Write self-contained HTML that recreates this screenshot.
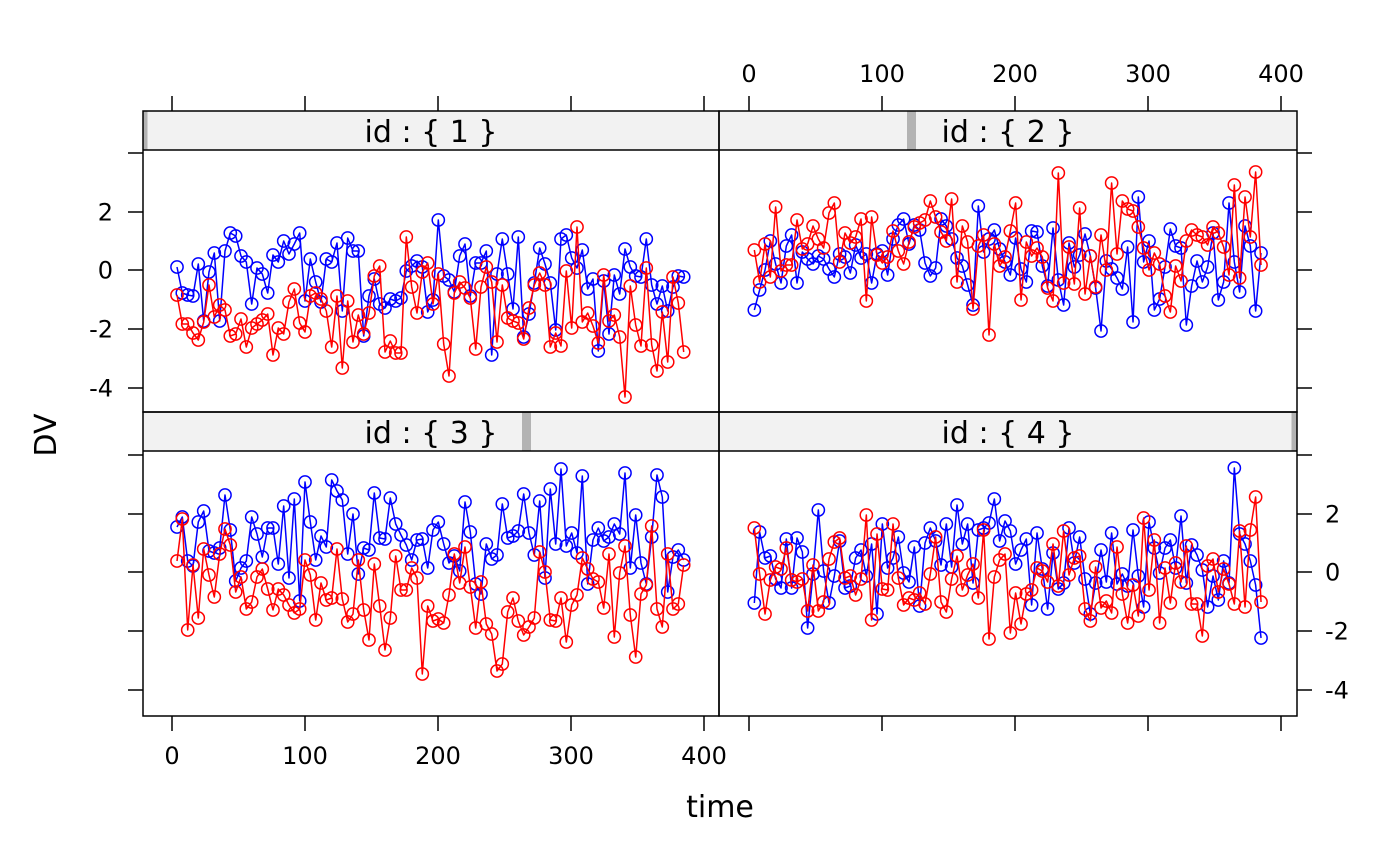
<!DOCTYPE html>
<html>
<head>
<meta charset="utf-8">
<style>
html,body{margin:0;padding:0;background:#fff;}
svg{display:block;}
text{font-family:"DejaVu Sans","Liberation Sans",sans-serif;fill:#000;}
.tk{font-size:24px;}
.st{font-size:30px;}
.lb{font-size:30px;}
</style>
</head>
<body>
<svg width="1400" height="866" viewBox="0 0 1400 866" xmlns="http://www.w3.org/2000/svg">
<defs>
<marker id="mb" markerWidth="16" markerHeight="16" refX="8" refY="8" markerUnits="userSpaceOnUse" overflow="visible"><circle cx="8" cy="8" r="6.1" fill="none" stroke="#0000ff" stroke-width="1.5"/></marker>
<marker id="mr" markerWidth="16" markerHeight="16" refX="8" refY="8" markerUnits="userSpaceOnUse" overflow="visible"><circle cx="8" cy="8" r="6.1" fill="none" stroke="#ff0000" stroke-width="1.5"/></marker>
</defs>
<rect x="0" y="0" width="1400" height="866" fill="#fff"/>

<!-- strips -->
<rect x="143" y="111" width="576" height="39" fill="#f2f2f2"/>
<rect x="719" y="111" width="578" height="39" fill="#f2f2f2"/>
<rect x="143" y="412" width="576" height="39" fill="#f2f2f2"/>
<rect x="719" y="412" width="578" height="39" fill="#f2f2f2"/>
<rect x="143" y="111" width="4.5" height="39" fill="#b3b3b3"/>
<rect x="907" y="111" width="9" height="39" fill="#b3b3b3"/>
<rect x="522" y="412" width="9" height="39" fill="#b3b3b3"/>
<rect x="1291.5" y="412" width="5.5" height="39" fill="#b3b3b3"/>
<text class="st" x="431" y="142" text-anchor="middle">id : { 1 }</text>
<text class="st" x="1008" y="142" text-anchor="middle">id : { 2 }</text>
<text class="st" x="431" y="443" text-anchor="middle">id : { 3 }</text>
<text class="st" x="1008" y="443" text-anchor="middle">id : { 4 }</text>

<!-- data -->
<g fill="none" stroke-width="1.5" stroke-linejoin="round">
<!-- panel 1 -->
<polyline stroke="#0000ff" marker-start="url(#mb)" marker-mid="url(#mb)" marker-end="url(#mb)" points="177,267 182.3,293 187.7,295 193,296 198.3,264 203.7,321 209,272 214.3,253 219.7,321 225,251 230.3,233 235.7,236 241,256 246.3,262 251.7,304 257,268 262.3,274 267.7,293 273,255 278.3,262 283.7,241 289,254 294.3,244 299.7,233 305,301 310.3,259 315.7,282 321,302 326.3,259 331.7,262 337,243 342.3,311 347.7,238 353,251 358.3,251 363.7,336 369,296 374.3,279 379.7,304 385,308 390.3,299 395.7,301 401,298 406.3,271 411.7,266 417,261 422.3,267 427.7,312 433,300 438.3,220 443.7,276 449,280 454.3,292 459.7,256 465,244 470.3,296 475.7,263 481,263 486.3,251 491.7,355 497,274 502.3,239 507.7,274 513,309 518.3,237 523.7,337 529,314 534.3,283 539.7,248 545,264 550.3,283 555.7,330 561,239 566.3,235 571.7,258 577,268 582.3,250 587.7,289 593,279 598.3,351 603.7,281 609,334 614.3,275 619.7,294 625,249 630.3,267 635.7,276 641,277 646.3,239 651.7,285 657,304 662.3,286 667.7,311 673,287 678.3,276 683.7,277"/>
<polyline stroke="#ff0000" marker-start="url(#mr)" marker-mid="url(#mr)" marker-end="url(#mr)" points="177,295 182.3,324 187.7,324 193,333 198.3,340 203.7,322 209,285 214.3,317 219.7,305 225,310 230.3,336 235.7,334 241,319 246.3,347 251.7,328 257,324 262.3,320 267.7,314 273,355 278.3,328 283.7,334 289,302 294.3,289 299.7,323 305,332 310.3,296 315.7,293 321,299 326.3,311 331.7,347 337,296 342.3,368 347.7,301 353,342 358.3,315 363.7,334 369,313 374.3,276 379.7,266 385,352 390.3,341 395.7,353 401,353 406.3,237 411.7,287 417,313 422.3,272 427.7,263 433,304 438.3,274 443.7,344 449,376 454.3,293 459.7,282 465,288 470.3,298 475.7,349 481,287 486.3,267 491.7,282 497,342 502.3,285 507.7,318 513,321 518.3,323 523.7,339 529,308 534.3,285 539.7,273 545,285 550.3,347 555.7,333 561,346 566.3,271 571.7,328 577,227 582.3,322 587.7,313 593,326 598.3,343 603.7,275 609,321 614.3,315 619.7,337 625,397 630.3,286 635.7,325 641,346 646.3,268 651.7,345 657,371 662.3,312 667.7,362 673,277 678.3,303 683.7,352"/>
<!-- panel 3 -->
<polyline stroke="#0000ff" marker-start="url(#mb)" marker-mid="url(#mb)" marker-end="url(#mb)" points="177,527 182.3,517 187.7,561 193,566 198.3,522 203.7,511 209,551 214.3,553 219.7,548 225,495 230.3,530 235.7,581 241,568 246.3,561 251.7,517 257,534 262.3,557 267.7,528 273,528 278.3,564 283.7,506 289,578 294.3,499 299.7,601 305,482 310.3,522 315.7,560 321,536 326.3,547 331.7,480 337,491 342.3,500 347.7,554 353,514 358.3,574 363.7,548 369,550 374.3,493 379.7,538 385,539 390.3,498 395.7,524 401,535 406.3,545 411.7,560 417,540 422.3,539 427.7,568 433,530 438.3,522 443.7,544 449,563 454.3,556 459.7,571 465,502 470.3,532 475.7,584 481,594 486.3,544 491.7,559 497,555 502.3,504 507.7,538 513,536 518.3,531 523.7,494 529,533 534.3,555 539.7,501 545,578 550.3,489 555.7,544 561,469 566.3,546 571.7,533 577,553 582.3,476 587.7,584 593,540 598.3,528 603.7,541 609,537 614.3,524 619.7,534 625,473 630.3,568 635.7,515 641,563 646.3,584 651.7,537 657,475 662.3,497 667.7,592 673,557 678.3,550 683.7,560"/>
<polyline stroke="#ff0000" marker-start="url(#mr)" marker-mid="url(#mr)" marker-end="url(#mr)" points="177,561 182.3,519 187.7,630 193,565 198.3,618 203.7,549 209,575 214.3,597 219.7,554 225,529 230.3,545 235.7,592 241,577 246.3,609 251.7,602 257,577 262.3,569 267.7,589 273,610 278.3,589 283.7,595 289,605 294.3,613 299.7,609 305,560 310.3,575 315.7,620 321,583 326.3,600 331.7,598 337,549 342.3,599 347.7,622 353,614 358.3,560 363.7,610 369,640 374.3,564 379.7,606 385,650 390.3,618 395.7,556 401,590 406.3,590 411.7,568 417,578 422.3,674 427.7,606 433,621 438.3,619 443.7,623 449,595 454.3,554 459.7,583 465,547 470.3,587 475.7,628 481,582 486.3,624 491.7,634 497,671 502.3,664 507.7,612 513,598 518.3,621 523.7,635 529,627 534.3,618 539.7,552 545,572 550.3,620 555.7,621 561,598 566.3,642 571.7,605 577,595 582.3,558 587.7,569 593,579 598.3,582 603.7,608 609,554 614.3,637 619.7,573 625,546 630.3,615 635.7,657 641,594 646.3,585 651.7,526 657,609 662.3,627 667.7,554 673,609 678.3,604 683.7,565"/>
<g transform="translate(577.33,0)">
<!-- panel 2 -->
<polyline stroke="#0000ff" marker-start="url(#mb)" marker-mid="url(#mb)" marker-end="url(#mb)" points="177,310 182.3,290 187.7,270 193,241 198.3,264 203.7,283 209,246 214.3,235 219.7,283 225,252 230.3,259 235.7,264 241,256 246.3,259 251.7,269 257,277 262.3,254 267.7,257 273,273 278.3,245 283.7,258 289,254 294.3,283 299.7,254 305,251 310.3,275 315.7,239 321,225 326.3,219 331.7,244 337,225 342.3,230 347.7,263 353,276 358.3,268 363.7,219 369,226 374.3,239 379.7,258 385,266 390.3,285 395.7,305 401,206 406.3,252 411.7,239 417,230 422.3,249 427.7,262 433,275 438.3,238 443.7,269 449,282 454.3,231 459.7,232 465,266 470.3,286 475.7,228 481,280 486.3,305 491.7,243 497,267 502.3,255 507.7,234 513,256 518.3,288 523.7,331 529,261 534.3,269 539.7,278 545,289 550.3,247 555.7,322 561,197 566.3,262 571.7,241 577,310 582.3,299 587.7,267 593,229 598.3,246 603.7,248 609,325 614.3,286 619.7,261 625,282 630.3,267 635.7,233 641,300 646.3,282 651.7,203 657,262 662.3,292 667.7,226 673,246 678.3,311 683.7,253"/>
<polyline stroke="#ff0000" marker-start="url(#mr)" marker-mid="url(#mr)" marker-end="url(#mr)" points="177,250 182.3,282 187.7,244 193,277 198.3,207 203.7,271 209,265 214.3,265 219.7,220 225,249 230.3,244 235.7,226 241,239 246.3,248 251.7,213 257,203 262.3,262 267.7,233 273,243 278.3,237 283.7,219 289,301 294.3,217 299.7,255 305,263 310.3,257 315.7,231 321,251 326.3,264 331.7,242 337,227 342.3,223 347.7,220 353,201 358.3,217 363.7,232 369,241 374.3,199 379.7,282 385,226 390.3,242 395.7,309 401,246 406.3,235 411.7,335 417,244 422.3,266 427.7,257 433,231 438.3,203 443.7,300 449,242 454.3,256 459.7,248 465,257 470.3,288 475.7,301 481,173 486.3,283 491.7,247 497,284 502.3,208 507.7,294 513,256 518.3,287 523.7,235 529,270 534.3,183 539.7,254 545,201 550.3,209 555.7,211 561,227 566.3,248 571.7,270 577,253 582.3,264 587.7,296 593,312 598.3,266 603.7,281 609,241 614.3,230 619.7,235 625,237 630.3,245 635.7,227 641,233 646.3,247 651.7,275 657,185 662.3,278 667.7,197 673,237 678.3,172 683.7,265"/>
<!-- panel 4 -->
<polyline stroke="#0000ff" marker-start="url(#mb)" marker-mid="url(#mb)" marker-end="url(#mb)" points="177,603 182.3,532 187.7,558 193,556 198.3,579 203.7,588 209,539 214.3,588 219.7,538 225,552 230.3,628 235.7,574 241,510 246.3,571 251.7,603 257,576 262.3,541 267.7,588 273,586 278.3,558 283.7,550 289,576 294.3,544 299.7,614 305,524 310.3,568 315.7,558 321,537 326.3,573 331.7,582 337,547 342.3,606 347.7,543 353,528 358.3,541 363.7,565 369,524 374.3,567 379.7,505 385,544 390.3,524 395.7,583 401,530 406.3,528 411.7,523 417,499 422.3,541 427.7,521 433,531 438.3,564 443.7,550 449,539 454.3,605 459.7,533 465,569 470.3,609 475.7,553 481,589 486.3,583 491.7,528 497,563 502.3,537 507.7,579 513,614 518.3,583 523.7,550 529,582 534.3,533 539.7,584 545,574 550.3,586 555.7,530 561,576 566.3,607 571.7,522 577,548 582.3,573 587.7,548 593,540 598.3,568 603.7,516 609,583 614.3,545 619.7,555 625,570 630.3,607 635.7,576 641,600 646.3,561 651.7,583 657,468 662.3,534 667.7,544 673,561 678.3,585 683.7,638"/>
<polyline stroke="#ff0000" marker-start="url(#mr)" marker-mid="url(#mr)" marker-end="url(#mr)" points="177,528 182.3,574 187.7,614 193,580 198.3,567 203.7,569 209,548 214.3,580 219.7,582 225,579 230.3,611 235.7,565 241,611 246.3,602 251.7,559 257,542 262.3,538 267.7,578 273,576 278.3,595 283.7,579 289,515 294.3,620 299.7,534 305,589 310.3,590 315.7,524 321,578 326.3,605 331.7,598 337,600 342.3,593 347.7,604 353,574 358.3,537 363.7,602 369,612 374.3,579 379.7,556 385,590 390.3,575 395.7,564 401,598 406.3,530 411.7,639 417,577 422.3,560 427.7,554 433,633 438.3,593 443.7,624 449,594 454.3,590 459.7,568 465,571 470.3,582 475.7,544 481,586 486.3,531 491.7,575 497,558 502.3,556 507.7,609 513,621 518.3,567 523.7,608 529,601 534.3,613 539.7,547 545,594 550.3,623 555.7,585 561,616 566.3,518 571.7,590 577,540 582.3,623 587.7,568 593,603 598.3,563 603.7,582 609,546 614.3,604 619.7,604 625,636 630.3,566 635.7,559 641,592 646.3,569 651.7,584 657,604 662.3,531 667.7,607 673,530 678.3,497 683.7,602"/>
</g>
</g>

<!-- panel frames -->
<g fill="none" stroke="#000" stroke-width="1.5">
<rect x="143" y="111" width="576" height="301"/>
<line x1="143" y1="150" x2="719" y2="150"/>
<rect x="719" y="111" width="578" height="301"/>
<line x1="719" y1="150" x2="1297" y2="150"/>
<rect x="143" y="412" width="576" height="304"/>
<line x1="143" y1="451" x2="719" y2="451"/>
<rect x="719" y="412" width="578" height="304"/>
<line x1="719" y1="451" x2="1297" y2="451"/>
</g>

<!-- ticks -->
<g stroke="#000" stroke-width="1.5">
<line x1="172" y1="96" x2="172" y2="111"/><line x1="305" y1="96" x2="305" y2="111"/><line x1="438" y1="96" x2="438" y2="111"/><line x1="571" y1="96" x2="571" y2="111"/><line x1="704" y1="96" x2="704" y2="111"/>
<line x1="749" y1="96" x2="749" y2="111"/><line x1="882" y1="96" x2="882" y2="111"/><line x1="1015" y1="96" x2="1015" y2="111"/><line x1="1148" y1="96" x2="1148" y2="111"/><line x1="1281" y1="96" x2="1281" y2="111"/>
<line x1="172" y1="716" x2="172" y2="731"/><line x1="305" y1="716" x2="305" y2="731"/><line x1="438" y1="716" x2="438" y2="731"/><line x1="571" y1="716" x2="571" y2="731"/><line x1="704" y1="716" x2="704" y2="731"/>
<line x1="749" y1="716" x2="749" y2="731"/><line x1="882" y1="716" x2="882" y2="731"/><line x1="1015" y1="716" x2="1015" y2="731"/><line x1="1148" y1="716" x2="1148" y2="731"/><line x1="1281" y1="716" x2="1281" y2="731"/>
<line x1="128" y1="153" x2="143" y2="153"/><line x1="128" y1="212" x2="143" y2="212"/><line x1="128" y1="270" x2="143" y2="270"/><line x1="128" y1="329" x2="143" y2="329"/><line x1="128" y1="388" x2="143" y2="388"/>
<line x1="128" y1="455" x2="143" y2="455"/><line x1="128" y1="514" x2="143" y2="514"/><line x1="128" y1="572" x2="143" y2="572"/><line x1="128" y1="631" x2="143" y2="631"/><line x1="128" y1="690" x2="143" y2="690"/>
<line x1="1297" y1="153" x2="1312" y2="153"/><line x1="1297" y1="212" x2="1312" y2="212"/><line x1="1297" y1="270" x2="1312" y2="270"/><line x1="1297" y1="329" x2="1312" y2="329"/><line x1="1297" y1="388" x2="1312" y2="388"/>
<line x1="1297" y1="455" x2="1312" y2="455"/><line x1="1297" y1="514" x2="1312" y2="514"/><line x1="1297" y1="572" x2="1312" y2="572"/><line x1="1297" y1="631" x2="1312" y2="631"/><line x1="1297" y1="690" x2="1312" y2="690"/>
</g>

<!-- tick labels -->
<g class="tk">
<text class="tk" x="749" y="82" text-anchor="middle">0</text>
<text class="tk" x="882" y="82" text-anchor="middle">100</text>
<text class="tk" x="1015" y="82" text-anchor="middle">200</text>
<text class="tk" x="1148" y="82" text-anchor="middle">300</text>
<text class="tk" x="1281" y="82" text-anchor="middle">400</text>

<text class="tk" x="172" y="764" text-anchor="middle">0</text>
<text class="tk" x="305" y="764" text-anchor="middle">100</text>
<text class="tk" x="438" y="764" text-anchor="middle">200</text>
<text class="tk" x="571" y="764" text-anchor="middle">300</text>
<text class="tk" x="704" y="764" text-anchor="middle">400</text>

<text class="tk" x="113" y="220.7" text-anchor="end">2</text>
<text class="tk" x="113" y="278.7" text-anchor="end">0</text>
<text class="tk" x="113" y="337.7" text-anchor="end">-2</text>
<text class="tk" x="113" y="396.7" text-anchor="end">-4</text>

<text class="tk" x="1325" y="522.7">2</text>
<text class="tk" x="1325" y="580.7">0</text>
<text class="tk" x="1325" y="639.7">-2</text>
<text class="tk" x="1325" y="698.7">-4</text>
</g>

<!-- axis labels -->
<text class="lb" x="720" y="817" text-anchor="middle">time</text>
<text class="lb" x="56" y="435" text-anchor="middle" transform="rotate(-90 56 435)">DV</text>
</svg>
</body>
</html>
